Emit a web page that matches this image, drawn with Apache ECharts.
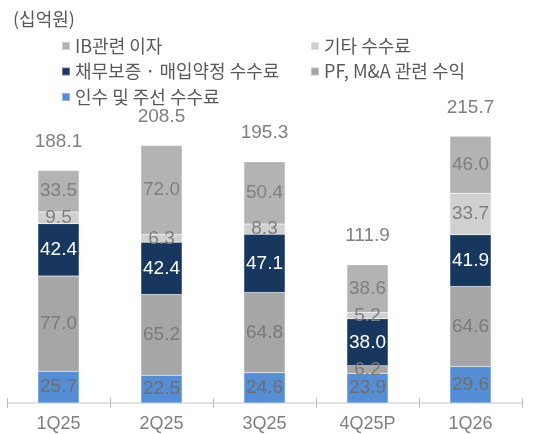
<!DOCTYPE html>
<html>
<head>
<meta charset="utf-8">
<script src="https://cdn.jsdelivr.net/npm/echarts@6/dist/echarts.min.js"></script>
<style>html,body{margin:0;padding:0;background:#fff}#c{width:538px;height:434px}</style>
</head>
<body>
<div id="c"></div>
<script>
const categories = ['1Q25', '2Q25', '3Q25', '4Q25P', '1Q26'];
const underwriting = [25.7, 22.5, 24.6, 23.9, 29.6];   // 인수 및 주선 수수료
const pfMa = [77.0, 65.2, 64.8, 6.2, 64.6];            // PF, M&A 관련 수익
const guarantee = [42.4, 42.4, 47.1, 38.0, 41.9];      // 채무보증·매입약정 수수료
const otherFees = [9.5, 6.3, 8.3, 5.2, 33.7];          // 기타 수수료
const ibInterest = [33.5, 72.0, 50.4, 38.6, 46.0];     // IB관련 이자
const totals = [188.1, 208.5, 195.3, 111.9, 215.7];

const FONT = '"Liberation Sans", Arial, "Noto Sans CJK KR", sans-serif';
const KFONT = '"Noto Sans CJK KR", "Liberation Sans", sans-serif';

function seg(name, data, color, labelColor) {
  return {
    name: name, type: 'bar', stack: 'a', data: data, barWidth: '40%',
    itemStyle: { color: color, borderColor: 'rgba(255,255,255,0.35)', borderWidth: 0.5 },
    label: { show: true, position: 'inside', color: labelColor, fontSize: 19, fontFamily: FONT,
      formatter: p => p.value.toFixed(1) },
    silent: true
  };
}

const legendText = { fontSize: 18, color: '#595959', fontFamily: KFONT, lineHeight: 20 };

const chart = echarts.init(document.getElementById('c'));
chart.setOption({
  animation: false,
  title: { text: '(십억원)', left: 8, top: 5,
    textStyle: { fontSize: 18, fontWeight: 'normal', color: '#595959', fontFamily: KFONT } },
  legend: [
    { data: ['IB관련 이자', '채무보증 · 매입약정 수수료', '인수 및 주선 수수료'],
      orient: 'vertical', left: 56, top: 31, itemWidth: 8, itemHeight: 8, itemGap: 5.5,
      icon: 'rect', selectedMode: false, textStyle: legendText },
    { data: ['기타 수수료', 'PF, M&A 관련 수익'],
      orient: 'vertical', left: 305, top: 31, itemWidth: 8, itemHeight: 8, itemGap: 5.5,
      icon: 'rect', selectedMode: false, textStyle: legendText }
  ],
  grid: { left: 7, right: 16, top: 94, bottom: 31, containLabel: false },
  xAxis: [
    { type: 'category', data: categories,
      axisLine: { lineStyle: { color: '#D9D9D9', width: 1.5 } },
      axisTick: { show: true, length: 5, lineStyle: { color: '#BFBFBF' } },
      axisLabel: { color: '#7F7F7F', fontSize: 18, fontFamily: FONT, margin: 12 } },
    { type: 'category', data: categories, position: 'bottom',
      axisLine: { show: false },
      axisTick: { show: true, inside: true, length: 5, lineStyle: { color: '#BFBFBF' } },
      axisLabel: { show: false } }
  ],
  yAxis: { type: 'value', min: 0, max: 250, show: false, splitLine: { show: false } },
  series: [
    seg('인수 및 주선 수수료', underwriting, '#558ED5', '#6E6E6E'),
    seg('PF, M&A 관련 수익', pfMa, '#A6A6A6', '#7A7A7A'),
    seg('채무보증 · 매입약정 수수료', guarantee, '#17375E', '#FFFFFF'),
    seg('기타 수수료', otherFees, '#D0D0D0', '#7F7F7F'),
    seg('IB관련 이자', ibInterest, '#B3B3B3', '#7F7F7F'),
    { name: 'total', type: 'bar', data: totals, barWidth: '40%', barGap: '-100%', z: 1,
      itemStyle: { color: 'rgba(0,0,0,0)' }, silent: true,
      label: { show: true, position: 'top', distance: 19, color: '#808080', fontSize: 19,
        fontFamily: FONT, formatter: p => p.value.toFixed(1) } }
  ]
});
</script>
</body>
</html>
